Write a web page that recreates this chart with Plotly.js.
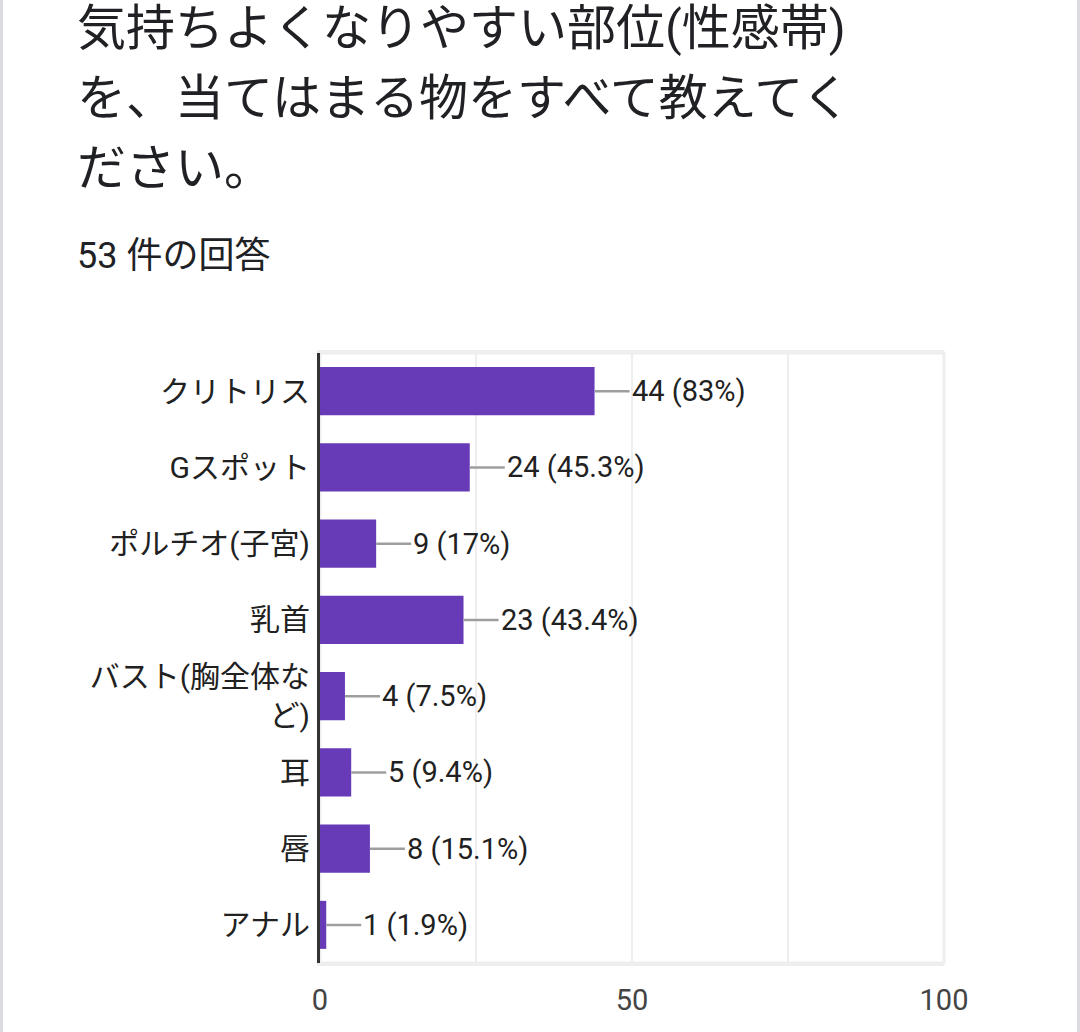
<!DOCTYPE html>
<html>
<head>
<meta charset="utf-8">
<script src="https://cdn.plot.ly/plotly-3.0.1.min.js"></script>
<style>
  html, body { margin: 0; padding: 0; background: #fff; }
  #chart { width: 1080px; height: 1032px; }
</style>
</head>
<body>
<div id="chart"></div>
<script>
// ---- data ----
const categories = ["クリトリス", "Gスポット", "ポルチオ(子宮)", "乳首", "バスト(胸全体な<br>ど)", "耳", "唇", "アナル"];
const counts = [44, 24, 9, 23, 4, 5, 8, 1];
const valueLabels = ["44 (83%)", "24 (45.3%)", "9 (17%)", "23 (43.4%)", "4 (7.5%)", "5 (9.4%)", "8 (15.1%)", "1 (1.9%)"];
const xTickVals = [0, 25, 50, 75, 100];
const xTickText = ["0", "", "50", "", "100"];
const titleLines = ["気持ちよくなりやすい部位(性感帯)", "を、当てはまる物をすべて教えてく", "ださい。"];
const subtitle = "53 件の回答";

const FONT = "Roboto, 'Noto Sans CJK JP', sans-serif";

const L = 320, R = 944, T = 353, B = 963;
const W = 1080, H = 1032;
const pw = R - L, ph = B - T;
const px2x = p => (p - L) / pw;
const py2y = p => (B - p) / ph;

const trace = {
  type: "bar",
  orientation: "h",
  x: counts,
  y: categories,
  marker: { color: "#673ab7" },
  hoverinfo: "none"
};

const annotations = [];
// value labels with leader lines
counts.forEach((v, i) => {
  annotations.push({
    x: v, y: categories[i], xref: "x", yref: "y",
    text: valueLabels[i],
    showarrow: true, arrowhead: 0, arrowwidth: 2.5, arrowcolor: "#9e9e9e",
    ax: 35, ay: 0, standoff: 0, xanchor: "left",
    font: { family: FONT, size: 29, color: "#212121" }
  });
});
// title lines
const titleY = [28, 98, 168];
titleLines.forEach((t, i) => {
  annotations.push({
    xref: "paper", yref: "paper", x: px2x(75), y: py2y(titleY[i]),
    xanchor: "left", yanchor: "middle", showarrow: false,
    text: t, font: { family: FONT, size: 49, color: "#202124" }
  });
});
annotations.push({
  xref: "paper", yref: "paper", x: px2x(75), y: py2y(256),
  xanchor: "left", yanchor: "middle", showarrow: false,
  text: subtitle, font: { family: FONT, size: 36, color: "#202124" }
});

const layout = {
  width: W, height: H,
  margin: { l: L, r: W - R, t: T, b: H - B, pad: 0 },
  paper_bgcolor: "#ffffff",
  plot_bgcolor: "#ffffff",
  showlegend: false,
  bargap: 0.37,
  font: { family: FONT, color: "#212121" },
  xaxis: {
    range: [0, 100],
    tickvals: xTickVals, ticktext: xTickText,
    showgrid: true, gridcolor: "#eeeeee", gridwidth: 2,
    zeroline: false,
    showline: true, linecolor: "#eeeeee", linewidth: 3, mirror: true,
    ticks: "", ticklabelstandoff: 9,
    tickfont: { family: FONT, size: 29, color: "#444444" },
    fixedrange: true
  },
  yaxis: {
    autorange: "reversed",
    showgrid: false, zeroline: false,
    showline: true, linecolor: "#333333", linewidth: 3,
    ticks: "", ticklabelstandoff: 1,
    tickfont: { family: FONT, size: 30, color: "#212121" },
    fixedrange: true
  },
  shapes: [
    { type: "rect", xref: "paper", yref: "paper", x0: 0, x1: 1, y0: 0, y1: 1,
      line: { color: "#eeeeee", width: 3 }, layer: "below" },
    { type: "line", xref: "paper", yref: "paper", x0: px2x(1.5), x1: px2x(1.5), y0: py2y(0), y1: py2y(H),
      line: { color: "#dadce0", width: 3 } },
    { type: "line", xref: "paper", yref: "paper", x0: px2x(1078.5), x1: px2x(1078.5), y0: py2y(0), y1: py2y(H),
      line: { color: "#dadce0", width: 3 } }
  ],
  annotations: annotations
};

Plotly.newPlot("chart", [trace], layout, { displayModeBar: false, staticPlot: true });
</script>
</body>
</html>
